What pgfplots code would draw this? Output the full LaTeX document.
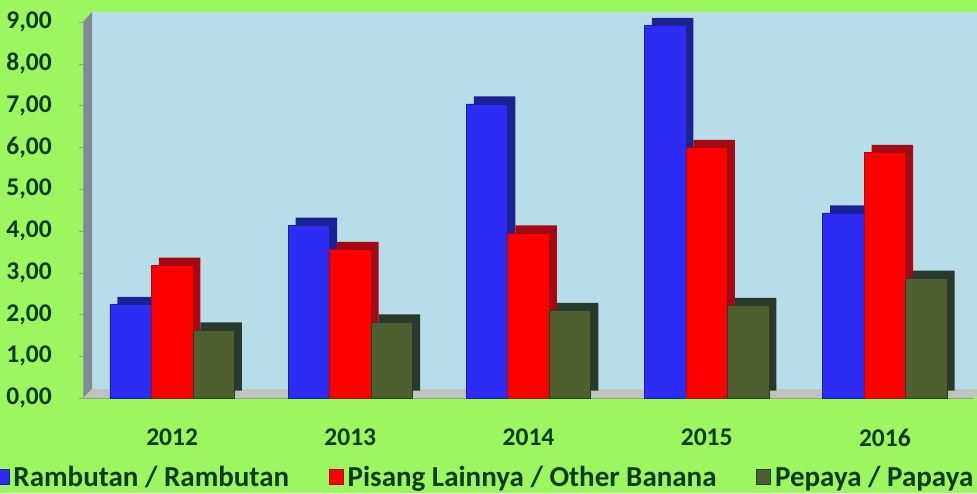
\documentclass[border=0pt]{standalone}
\usepackage{fontspec}
\setmainfont{Carlito}
\usepackage{pgfplots}
\pgfplotsset{compat=1.18}

\definecolor{bggreen}{RGB}{155,246,95}
\definecolor{wallblue}{RGB}{183,221,232}
\definecolor{wallgray}{RGB}{125,138,152}
\definecolor{floorgray}{RGB}{192,194,190}
\definecolor{txtgreen}{RGB}{16,58,20}
\definecolor{barblue}{RGB}{44,44,245}
\definecolor{barblueD}{RGB}{26,34,150}
\definecolor{barred}{RGB}{255,0,0}
\definecolor{barredD}{RGB}{165,10,20}
\definecolor{barolive}{RGB}{78,94,46}
\definecolor{baroliveD}{RGB}{40,58,44}

% values
\pgfplotstableread{
x  ramb  pis   pep
0  2.24  3.18  1.63
1  4.14  3.56  1.82
2  7.04  3.95  2.10
3  8.92  6.00  2.22
4  4.43  5.88  2.87
}\datatab

\begin{document}
\begin{tikzpicture}
\begin{axis}[
    at={(0,0)}, anchor=south west,
    scale only axis, width=891pt, height=376pt,
    set layers, clip=false,
    xmin=-0.5, xmax=4.5, ymin=0, ymax=9,
    axis x line*=bottom, axis y line*=left,
    axis line style={draw=gray!80, -},
    xtick={0,...,4},
    xticklabels={2012,2013,2014,2015,2016},
    xtick style={draw=none},
    extra x ticks={-0.5,0.5,1.5,2.5,3.5,4.5},
    extra x tick labels={},
    extra x tick style={major tick length=5pt, tick align=outside, tick style={draw=gray!80}},
    ytick={0,...,9},
    ytick style={draw=gray!80},
    tick align=outside, major tick length=4pt,
    yticklabel={\pgfmathprintnumber[fixed, fixed zerofill, precision=2, use comma]{\tick}},
    /pgf/number format/assume math mode=true,
    ticklabel style={font=\fontsize{25.5}{30}\selectfont\bfseries, text=txtgreen, inner sep=0pt},
    xticklabel style={anchor=north, yshift=-27pt},
    yticklabel style={anchor=east, xshift=-27pt},
    legend style={at={(-0.1025,-0.210)}, anchor=west, draw=none, fill=none,
        font=\fontsize{29}{33}\selectfont\bfseries, text=txtgreen,
        nodes={inner sep=0pt}, legend columns=-1,
        /tikz/every odd column/.append style={column sep=4pt},
        /tikz/every even column/.append style={column sep=40pt}},
    legend image code/.code={\fill[#1] (0pt,-7.5pt) rectangle (14pt,7.5pt);},
]
\begin{pgfonlayer}{axis background}
\fill[bggreen] ([shift={(-83pt,-95pt)}]rel axis cs:0,0) rectangle ([shift={(3pt,22pt)}]rel axis cs:1,1);
\fill[wallblue] ([shift={(9pt,9pt)}]rel axis cs:0,0) rectangle ([shift={(9pt,10pt)}]rel axis cs:1,1);
\fill[wallgray] (rel axis cs:0,0) -- (rel axis cs:0,1) -- ([shift={(9pt,10pt)}]rel axis cs:0,1)
    -- ([shift={(9pt,9pt)}]rel axis cs:0,0) -- cycle;
\fill[floorgray] (rel axis cs:0,0) -- (rel axis cs:1,0) -- ([shift={(9pt,9pt)}]rel axis cs:1,0)
    -- ([shift={(9pt,9pt)}]rel axis cs:0,0) -- cycle;
\end{pgfonlayer}

% Rambutan
\addplot[ybar, bar width=41.5pt, bar shift=-34pt, fill=barblueD, draw=none, yshift=7.5pt, forget plot]
    table[x=x, y=ramb] {\datatab};
\addplot[ybar, bar width=41.5pt, bar shift=-41.5pt, fill=barblue, draw=barblueD, line width=0.6pt]
    table[x=x, y=ramb] {\datatab};
% Pisang
\addplot[ybar, bar width=41.5pt, bar shift=7.5pt, fill=barredD, draw=none, yshift=7.5pt, forget plot]
    table[x=x, y=pis] {\datatab};
\addplot[ybar, bar width=41.5pt, bar shift=0pt, fill=barred, draw=barredD, line width=0.6pt]
    table[x=x, y=pis] {\datatab};
% Pepaya
\addplot[ybar, bar width=41.5pt, bar shift=49pt, fill=baroliveD, draw=none, yshift=7.5pt, forget plot]
    table[x=x, y=pep] {\datatab};
\addplot[ybar, bar width=41.5pt, bar shift=41.5pt, fill=barolive, draw=baroliveD, line width=0.6pt]
    table[x=x, y=pep] {\datatab};

\legend{Rambutan / Rambutan, Pisang Lainnya / Other Banana, Pepaya / Papaya}
\end{axis}
\pgfresetboundingbox
\useasboundingbox (-83pt,-95pt) rectangle (894pt,398pt);
\end{tikzpicture}
\end{document}
